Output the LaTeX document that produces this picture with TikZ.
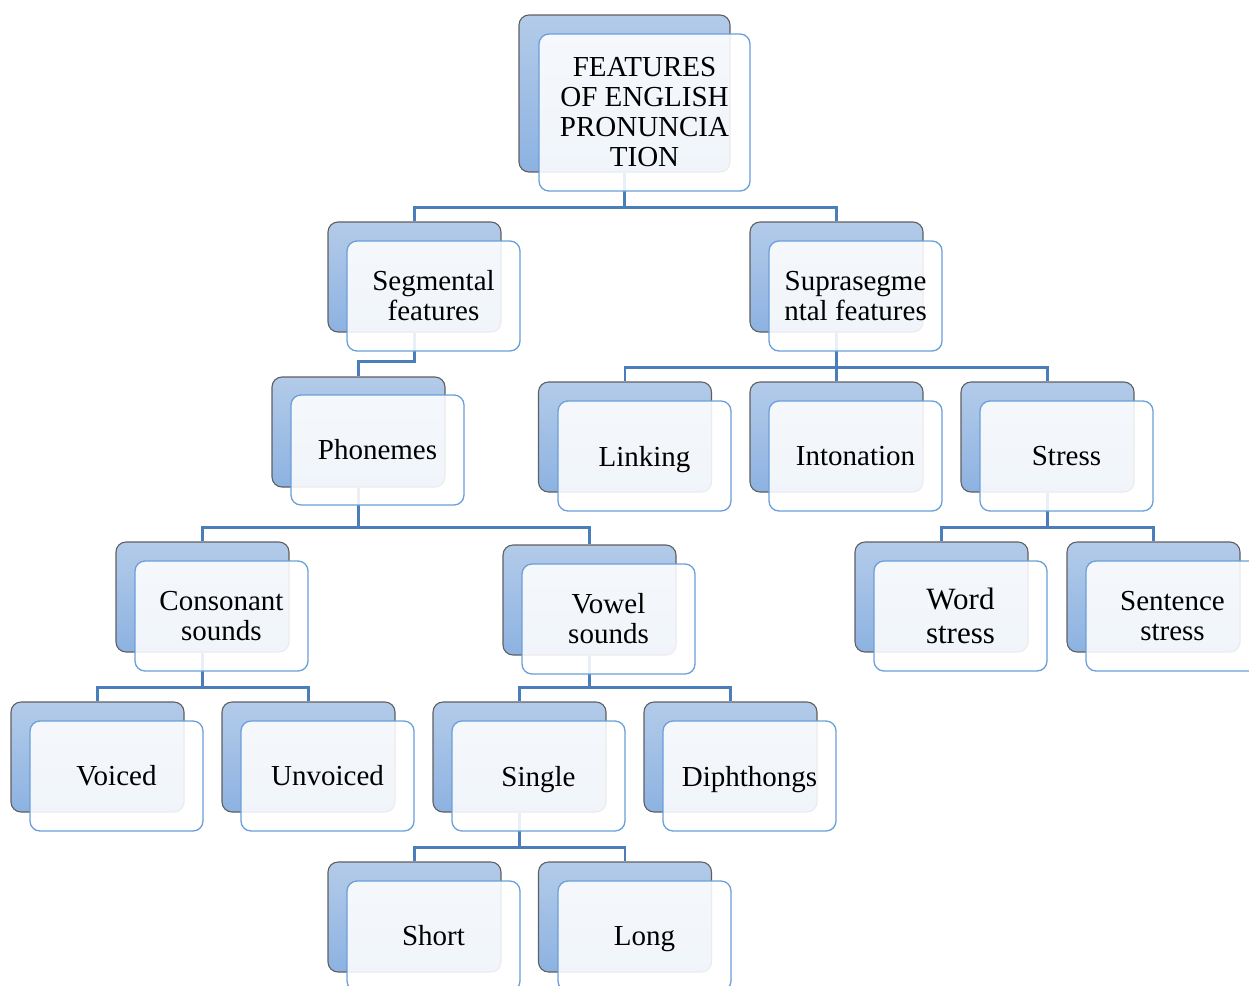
\documentclass[tikz,border=0pt]{standalone}
\usepackage{fontspec}
\setmainfont{Liberation Serif}
\pgfdeclarelayer{background}
\pgfsetlayers{background,main}
\definecolor{backtop}{HTML}{B3CBE9}
\definecolor{backbot}{HTML}{8DB2E1}
\definecolor{backedge}{HTML}{5F5F5F}
\definecolor{frontedge}{HTML}{6A9FD9}
\definecolor{linkblue}{HTML}{4A7EBB}
% set a line without its descenders, so that it sits on the same baseline as the others
\newcommand\nodesc[1]{\raisebox{0pt}[\height][0pt]{#1}}
\tikzset{
  backbox/.style={rounded corners=10pt, draw=backedge, line width=1.1pt,
    top color=backtop, bottom color=backbot,
    minimum width=173pt, minimum height=110pt, inner sep=0pt},
  frontbox/.style={rounded corners=10pt, draw=frontedge, line width=1.3pt,
    fill=white, fill opacity=0.88, text opacity=1,
    minimum width=173pt, minimum height=110pt, inner sep=0pt,
    align=center, font=\fontsize{29}{30}\selectfont},
  rootsize/.style={minimum width=211pt, minimum height=157pt},
  bigtext/.style={font=\fontsize{31}{34}\selectfont},
  conn/.style={draw=linkblue, line width=2.4pt},
}
\begin{document}
\begin{tikzpicture}[x=1pt,y=-1pt]
\useasboundingbox (0,0) rectangle (1249,985);

% top level
\node[backbox,rootsize] (rootb) at (624.5,93.5) {};
\node[frontbox,rootsize] (root) at (644.5,112.5) {FEATURES\\OF ENGLISH\\PRONUNCIA\\TION};

% second level
\node[backbox] (segb) at (414.5,277) {};
\node[frontbox] (seg) at (433.5,296) {Segmental\\features};
\node[backbox] (supb) at (836.5,277) {};
\node[frontbox] (sup) at (855.5,296) {Suprasegme\\ntal features};

% third level
\node[backbox] (phonb) at (358.5,432) {};
\node[frontbox] (phon) at (377.5,450) {Phonemes};
\node[backbox] (linkb) at (625,437) {};
\node[frontbox] (link) at (644.5,456) {\nodesc{Linking}};
\node[backbox] (intonb) at (836.5,437) {};
\node[frontbox] (inton) at (855.5,456) {Intonation};
\node[backbox] (stressb) at (1047.5,437) {};
\node[frontbox] (stress) at (1066.5,456) {Stress};

% fourth level
\node[backbox] (consb) at (202.5,597) {};
\node[frontbox] (cons) at (221.5,616) {Consonant\\sounds};
\node[backbox] (vowelb) at (589.5,600) {};
\node[frontbox] (vowel) at (608.5,619) {Vowel\\sounds};
\node[backbox] (wordb) at (941.5,597) {};
\node[frontbox,bigtext] (word) at (960.5,616) {Word\\stress};
\node[backbox] (sentb) at (1153.5,597) {};
\node[frontbox] (sent) at (1172.5,616) {Sentence\\stress};

% fifth level
\node[backbox] (voicedb) at (97.5,757) {};
\node[frontbox] (voiced) at (116.5,776) {Voiced};
\node[backbox] (unvoicedb) at (308.5,757) {};
\node[frontbox] (unvoiced) at (327.5,776) {Unvoiced};
\node[backbox] (singleb) at (519.5,757) {};
\node[frontbox] (single) at (538.5,776) {\nodesc{Single}};
\node[backbox] (diphb) at (730.5,757) {};
\node[frontbox] (diph) at (749.5,776) {\nodesc{Diphthongs}};

% sixth level
\node[backbox] (shortb) at (414.5,917) {};
\node[frontbox] (short) at (433.5,936) {Short};
\node[backbox] (longb) at (625,917) {};
\node[frontbox] (long) at (644.5,936) {\nodesc{Long}};

% connectors behind the boxes
\begin{pgfonlayer}{background}
\draw[conn] (rootb.south) -- ++(0,35) -| (segb.north);
\draw[conn] (rootb.south) -- ++(0,35) -| (supb.north);
\draw[conn] (segb.south) -- ++(0,29) -| (phonb.north);
\draw[conn] (supb.south) -- ++(0,35) -| (linkb.north);
\draw[conn] (supb.south) -- (intonb.north);
\draw[conn] (supb.south) -- ++(0,35) -| (stressb.north);
\draw[conn] (phonb.south) -- ++(0,40) -| (consb.north);
\draw[conn] (phonb.south) -- ++(0,40) -| (vowelb.north);
\draw[conn] (stressb.south) -- ++(0,35) -| (wordb.north);
\draw[conn] (stressb.south) -- ++(0,35) -| (sentb.north);
\draw[conn] (consb.south) -- ++(0,35) -| (voicedb.north);
\draw[conn] (consb.south) -- ++(0,35) -| (unvoicedb.north);
\draw[conn] (vowelb.south) -- ++(0,32) -| (singleb.north);
\draw[conn] (vowelb.south) -- ++(0,32) -| (diphb.north);
\draw[conn] (singleb.south) -- ++(0,35) -| (shortb.north);
\draw[conn] (singleb.south) -- ++(0,35) -| (longb.north);
\end{pgfonlayer}
\end{tikzpicture}
\end{document}
